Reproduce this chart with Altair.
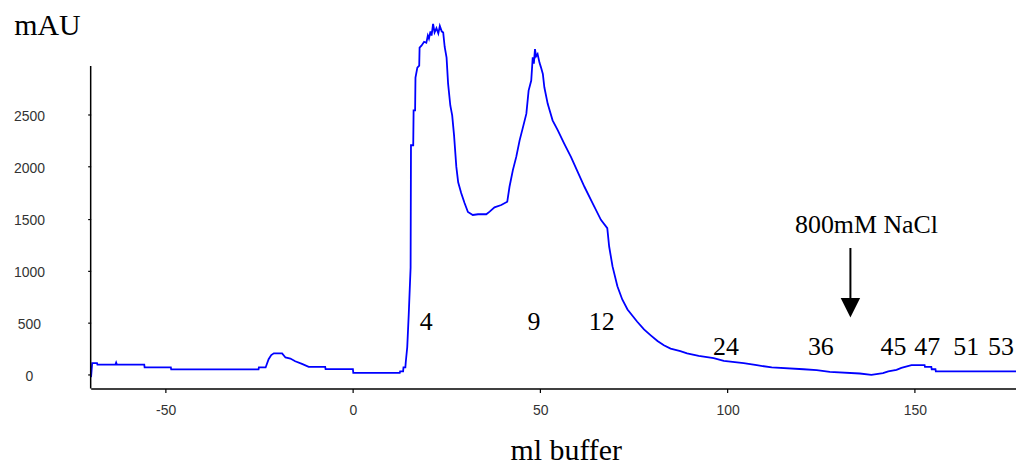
import altair as alt
import pandas as pd

# Chromatogram trace (ml buffer, mAU)
volume = [-69.9, -69.6, -68.3, -68.2, -63.4, -63.2, -63.0, -55.7, -55.6, -48.6, -48.5,
          -25.2, -25.1, -23.3, -22.5, -21.8, -21.1, -18.9, -18.0, -16.7, -15.4, -13.6,
          -11.8, -7.4, -7.3, 0.0, 0.1, 12.5, 12.6, 13.4, 13.5, 14.0, 14.1, 14.5, 14.9,
          15.4, 15.5, 16.1, 16.2, 16.6, 16.7, 17.2, 17.7, 17.8, 18.3, 19.0, 19.6, 20.0,
          20.3, 20.7, 21.0, 21.4, 21.8, 22.3, 22.8, 23.2, 23.7, 24.1, 24.5, 25.0, 25.4,
          26.0, 26.5, 27.0, 27.6, 28.1, 28.9, 29.8, 30.7, 32.0, 33.4, 35.6, 36.5, 37.8,
          39.6, 41.2, 41.8, 42.7, 43.6, 44.5, 45.4, 46.3, 46.9, 47.6, 48.0, 48.3, 48.6,
          48.9, 49.3, 49.8, 50.2, 50.7, 51.1, 52.0, 53.3, 54.7, 56.4, 58.2, 60.0, 61.8,
          64.0, 66.2, 67.9, 68.4, 69.3, 70.6, 71.9, 73.3, 75.9, 77.7, 79.5, 81.3, 83.0,
          84.8, 87.4, 89.2, 92.3, 96.3, 99.0, 104.3, 107.8, 111.8, 120.3, 123.8, 127.3,
          135.3, 138.4, 141.5, 142.9, 145.1, 146.4, 149.1, 152.6, 152.7, 154.4, 154.5,
          155.5, 155.6, 177.0]
absorbance = [-22, 112, 112, 99, 99, 118, 99, 99, 71, 71, 52,
              52, 71, 71, 150, 190, 207, 207, 167, 157, 131, 105,
              77, 77, 55, 55, 19, 19, 33, 33, 71, 71, 119, 265, 580,
              1030, 2206, 2206, 2540, 2540, 2856, 2952, 2971, 3143, 3162, 3200, 3190, 3260,
              3230, 3300, 3260, 3372, 3290, 3330, 3280, 3352, 3300, 3290, 3150, 3047, 2800,
              2588, 2493, 2301, 2000, 1850, 1747, 1651, 1565, 1536, 1543, 1543, 1568, 1610,
              1632, 1663, 1807, 1967, 2094, 2253, 2380, 2509, 2731, 2827, 3050, 2990, 3130,
              3060, 3082, 3000, 2954, 2891, 2763, 2604, 2445, 2349, 2222, 2094, 1950, 1807,
              1648, 1489, 1409, 1233, 1042, 851, 724, 628, 510, 437, 380, 325, 284,
              252, 229, 207, 182, 160, 134, 112, 93, 71, 54, 45, 29,
              13, 0, 16, 33, 48, 67, 93, 93, 76, 76, 54,
              54, 33, 33]

# Fraction numbers
frac_labels = ["4", "9", "12", "24", "36", "45", "47", "51", "53"]
frac_x = [19.6, 48.3, 66.4, 99.6, 124.9, 144.3, 153.3, 163.7, 173.0]
frac_y = [434, 434, 434, 195, 195, 195, 195, 195, 195]

# Salt step annotation
salt_label = ["800mM NaCl"]
salt_x = [137.1]
salt_y = [1360]
arrow_x = [132.8]
arrow_top = [1219]
arrow_bottom = [722]
arrow_head_y = [645]

x_ticks = [-50, 0, 50, 100, 150]
y_ticks = [0, 500, 1000, 1500, 2000, 2500]
x_domain = [-70, 177]
y_domain = [-130, 3420]
y_axis_top = [2967]

trace = pd.DataFrame({"ml": volume, "mAU": absorbance})
fracs = pd.DataFrame({"x": frac_x, "y": frac_y, "t": frac_labels})
salt = pd.DataFrame({"x": salt_x, "y": salt_y, "t": salt_label})
arrow = pd.DataFrame({"x": arrow_x, "y": arrow_top, "y2": arrow_bottom, "yh": arrow_head_y})
yline = pd.DataFrame({"x": [x_domain[0]], "y": [y_domain[0]], "y2": y_axis_top})

xs = alt.Scale(domain=x_domain, nice=False, zero=False)
ys = alt.Scale(domain=y_domain, nice=False, zero=False)

x_axis = alt.Axis(values=x_ticks, title="ml buffer", grid=False,
                  labelExpr="'' + datum.value",
                  domainColor="#000", domainWidth=1.5, tickColor="#000", tickSize=4,
                  tickWidth=1.2, labelFont="Liberation Sans", labelFontSize=14,
                  labelColor="#333", labelBaseline="middle", labelPadding=18,
                  titleFont="Liberation Serif", titleFontSize=30, titleFontWeight="normal",
                  titleColor="#000", titleX=477, titleY=71, titleAlign="center",
                  titleBaseline="alphabetic", titleAnchor="start")
y_axis = alt.Axis(values=y_ticks, title="mAU", grid=False, domain=False,
                  labelExpr="'' + datum.value",
                  tickColor="#000", tickSize=3, tickWidth=1.2,
                  labelFont="Liberation Sans", labelFontSize=14, labelColor="#333",
                  labelAlign="center", labelPadding=59, labelOffset=2,
                  titleFont="Liberation Serif", titleFontSize=30, titleFontWeight="normal",
                  titleColor="#000", titleAngle=0, titleX=-44, titleY=15.4,
                  titleAlign="center", titleBaseline="alphabetic", titleAnchor="start")

line = alt.Chart(trace).mark_line(color="#0000ff", strokeWidth=1.8).encode(
    x=alt.X("ml:Q", scale=xs, axis=x_axis),
    y=alt.Y("mAU:Q", scale=ys, axis=y_axis),
    order="ml:Q",
)

y_rule = alt.Chart(yline).mark_rule(color="#000", strokeWidth=1.5).encode(
    x=alt.X("x:Q", scale=xs), y=alt.Y("y:Q", scale=ys), y2="y2:Q")

frac_text = alt.Chart(fracs).mark_text(font="Liberation Serif", fontSize=26,
                                       align="center", baseline="alphabetic",
                                       color="#000").encode(
    x=alt.X("x:Q", scale=xs), y=alt.Y("y:Q", scale=ys), text="t:N")

salt_text = alt.Chart(salt).mark_text(font="Liberation Serif", fontSize=26,
                                      align="center", baseline="alphabetic",
                                      color="#000").encode(
    x=alt.X("x:Q", scale=xs), y=alt.Y("y:Q", scale=ys), text="t:N")

arrow_line = alt.Chart(arrow).mark_rule(color="#000", strokeWidth=2).encode(
    x=alt.X("x:Q", scale=xs), y=alt.Y("y:Q", scale=ys), y2="y2:Q")

arrow_head = alt.Chart(arrow).mark_point(shape="M-1,-1L1,-1L0,1Z", size=380,
                                         filled=True, color="#000", opacity=1,
                                         strokeWidth=0).encode(
    x=alt.X("x:Q", scale=xs), y=alt.Y("yh:Q", scale=ys))

chart = alt.layer(line, y_rule, frac_text, salt_text, arrow_line, arrow_head).properties(
    width=929, height=371,
    autosize=alt.AutoSizeParams(type="none"),
    padding={"left": 83, "top": 10, "right": 0, "bottom": 78},
    background="#ffffff",
).configure_view(stroke=None)

chart.save("out.html", embed_options={"renderer": "svg", "actions": False})
